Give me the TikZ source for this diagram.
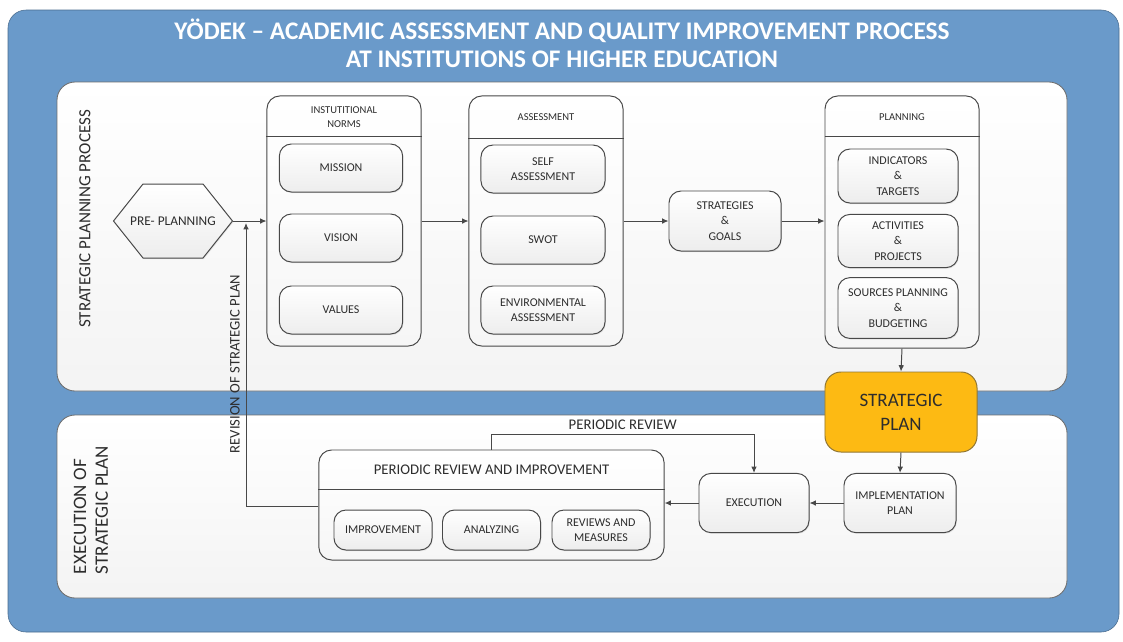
\documentclass[tikz,border=0pt]{standalone}
\usepackage{fontspec}
\setmainfont{Carlito}
\usetikzlibrary{arrows.meta,shadows}

\definecolor{outerblue}{RGB}{106,154,202}
\definecolor{linegray}{RGB}{72,72,72}
\definecolor{textgray}{RGB}{45,45,45}
\definecolor{planorange}{RGB}{253,186,19}

\tikzset{
  panel/.style={draw=linegray!80, line width=0.6pt, rounded corners=0.45cm,
    top color=white, bottom color=gray!9},
  group/.style={draw=linegray, line width=0.7pt, rounded corners=0.32cm,
    top color=white, bottom color=gray!7, inner sep=0pt},
  item/.style={draw=linegray, line width=0.7pt, rounded corners=0.3cm,
    top color=white, bottom color=gray!14, align=center, text=textgray,
    font=\fontsize{8.5}{11}\selectfont, inner sep=1pt,
    drop shadow={opacity=0.18, shadow xshift=0.6pt, shadow yshift=-0.8pt}},
  head/.style={align=center, text=textgray, font=\fontsize{7.5}{10}\selectfont},
  arr/.style={draw=linegray, line width=0.7pt, -{Latex[length=4.5pt,width=4pt]}}
}

\begin{document}
\begin{tikzpicture}[x=0.025cm, y=-0.025cm]
  \useasboundingbox (0,0) rectangle (1123,641);

  % background and the two bands
  \fill[white] (0,0) rectangle (1123,641);
  \draw[outerblue!70!black, fill=outerblue, rounded corners=0.45cm] (8,10) rectangle (1119,632);
  \draw[panel] (57,82) rectangle (1067,391);
  \draw[panel] (57,415) rectangle (1067,598);

  \node[text=white, align=center, font=\fontsize{18}{19.9}\selectfont\bfseries] (title) at (562,43)
    {YÖDEK – ACADEMIC ASSESSMENT AND QUALITY IMPROVEMENT PROCESS\\AT INSTITUTIONS OF HIGHER EDUCATION};
  \node[rotate=90, text=textgray, font=\fontsize{12.1}{14}\selectfont] (planlabel) at (85,219)
    {STRATEGIC PLANNING PROCESS};
  \node[rotate=90, align=left, text=textgray, font=\fontsize{13.5}{15.5}\selectfont] (execlabel) at (91,510)
    {EXECUTION OF\\STRATEGIC PLAN};

  % strategic planning process
  \draw[draw=linegray, line width=0.7pt, top color=white, bottom color=gray!14,
    drop shadow={opacity=0.18, shadow xshift=0.6pt, shadow yshift=-0.8pt}]
    (113.5,221) -- (143,184) -- (203,184) -- (232.5,221) -- (203,258) -- (143,258) -- cycle;
  \node[minimum width=2.975cm, minimum height=1.85cm, inner sep=0pt, text=textgray,
    font=\fontsize{9.5}{11}\selectfont] (pre) at (173,221) {PRE- PLANNING};

  \node[group, minimum width=3.85cm, minimum height=6.25cm] (norms) at (344,221) {};
  \draw[linegray, line width=0.7pt] (norms.west |- 0,136) -- (norms.east |- 0,136);
  \node[head] (normshead) at (344,117) {INSTUTITIONAL\\NORMS};
  \node[item, minimum width=3.08cm, minimum height=1.2cm] (mission) at (341,168) {MISSION};
  \node[item, minimum width=3.08cm, minimum height=1.2cm] (vision) at (341,238) {VISION};
  \node[item, minimum width=3.08cm, minimum height=1.2cm] (values) at (341,310) {VALUES};

  \node[group, minimum width=3.85cm, minimum height=6.25cm] (assess) at (546,221) {};
  \draw[linegray, line width=0.7pt] (assess.west |- 0,138) -- (assess.east |- 0,138);
  \node[head] (assesshead) at (546,117) {ASSESSMENT};
  \node[item, minimum width=3.1cm, minimum height=1.2cm] (self) at (543,169) {SELF\\ASSESSMENT};
  \node[item, minimum width=3.1cm, minimum height=1.2cm] (swot) at (543,240) {SWOT};
  \node[item, minimum width=3.1cm, minimum height=1.2cm] (env) at (543,310) {ENVIRONMENTAL\\ASSESSMENT};

  \node[item, minimum width=2.8cm, minimum height=1.5cm] (strat) at (725,221) {STRATEGIES\\\&\\GOALS};

  \node[group, minimum width=3.85cm, minimum height=6.3cm] (planning) at (902,222) {};
  \draw[linegray, line width=0.7pt] (planning.west |- 0,136) -- (planning.east |- 0,136);
  \node[head] (planninghead) at (902,117) {PLANNING};
  \node[item, minimum width=3.0cm, minimum height=1.35cm] (indic) at (898,176) {INDICATORS\\\&\\TARGETS};
  \node[item, minimum width=3.0cm, minimum height=1.33cm] (activ) at (898,241) {ACTIVITIES\\\&\\PROJECTS};
  \node[item, minimum width=3.0cm, minimum height=1.52cm] (sources) at (898,308) {SOURCES PLANNING\\\&\\BUDGETING};

  \node[draw=linegray!60!planorange, line width=0.7pt, fill=planorange, rounded corners=0.4cm,
    minimum width=3.8cm, minimum height=2cm, align=center, text=textgray,
    font=\fontsize{13.5}{17}\selectfont] (plan) at (901,412) {STRATEGIC\\PLAN};

  % execution of strategic plan
  \node[item, minimum width=2.8cm, minimum height=1.48cm] (impl) at (900,503) {IMPLEMENTATION\\PLAN};
  \node[item, minimum width=2.75cm, minimum height=1.48cm] (exec) at (754,503) {EXECUTION};

  \node[group, minimum width=8.63cm, minimum height=2.75cm] (review) at (491.5,505) {};
  \draw[linegray, line width=0.7pt] (review.west |- 0,489) -- (review.east |- 0,489);
  \node[text=textgray, font=\fontsize{10.5}{12}\selectfont] (reviewhead) at (491.5,470)
    {PERIODIC REVIEW AND IMPROVEMENT};
  \node[item, minimum width=2.45cm, minimum height=1.0cm] (improve) at (383,530) {IMPROVEMENT};
  \node[item, minimum width=2.45cm, minimum height=1.0cm] (analyze) at (491.5,530) {ANALYZING};
  \node[item, minimum width=2.45cm, minimum height=1.0cm] (measure) at (601,530) {REVIEWS AND\\MEASURES};

  % connectors
  \coordinate (revtip) at (246,223);
  \draw[arr] (pre.east) -- (pre.east -| norms.west);
  \draw[arr] (norms.east |- pre.east) -- (assess.west |- pre.east);
  \draw[arr] (assess.east |- strat.west) -- (strat.west);
  \draw[arr] (strat.east) -- (planning.west |- strat.east);
  \draw[arr] (planning.south) -- (plan.north);
  \draw[arr] (plan.south) -- (impl.north);
  \draw[arr] (impl.west) -- (exec.east);
  \draw[arr] (exec.west) -- (exec.west -| review.east);
  \draw[arr] (review.north) -- ++(0,-15) -| node[pos=0.25, above, text=textgray,
    font=\fontsize{10.5}{12}\selectfont] {PERIODIC REVIEW} (exec.north);
  \draw[arr] (review.west |- 0,506) -| (revtip);
  \node[rotate=90, text=textgray, font=\fontsize{10.4}{12}\selectfont] (revlabel) at (235,364)
    {REVISION OF STRATEGIC PLAN};
\end{tikzpicture}
\end{document}
